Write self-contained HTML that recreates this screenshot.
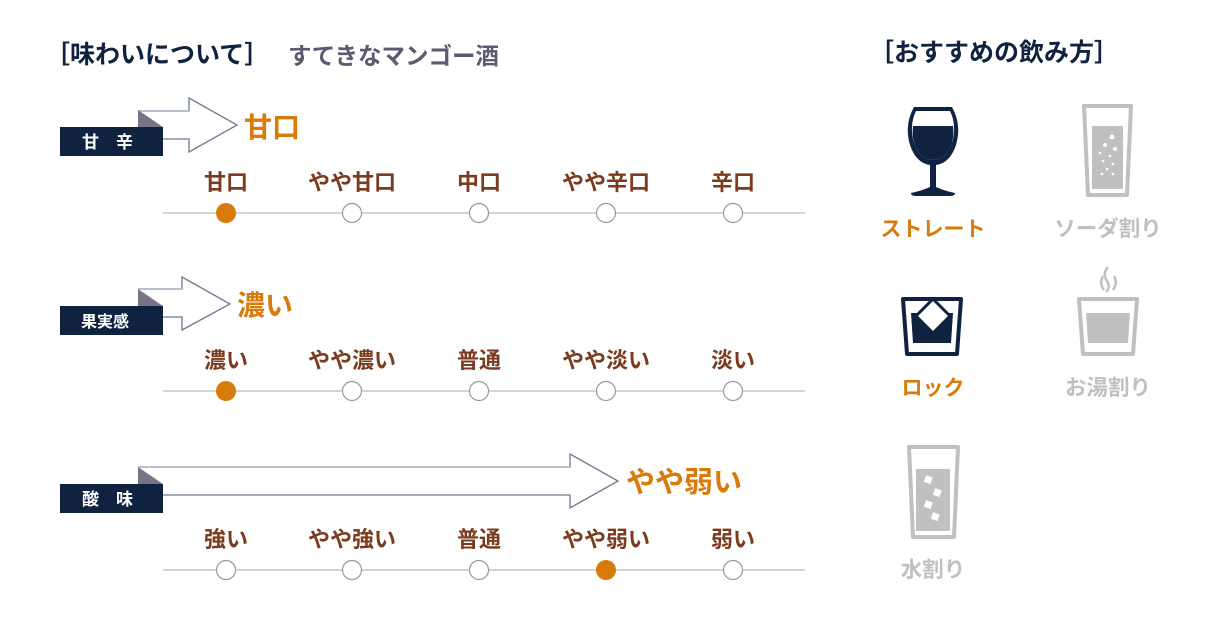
<!DOCTYPE html>
<html><head><meta charset="utf-8"><style>
body{margin:0;background:#fff;}
svg text{font-family:"Liberation Sans","Noto Sans CJK JP",sans-serif;font-weight:700;}
</style></head><body>
<svg width="1221" height="620" viewBox="0 0 1221 620" xmlns="http://www.w3.org/2000/svg">
<text x="45" y="63" font-size="25" fill="#0f2340">［味わいについて］</text>
<text x="288" y="64" font-size="23.5" fill="#5f5870">すてきなマンゴー酒</text>
<text x="869" y="61" font-size="25" fill="#0f2340">［おすすめの飲み方］</text>

<!-- section 1 -->
<path d="M138 111 H189 V98 L237 125 L189 152 V139 H163" fill="#fff" stroke="#6b7a90" stroke-width="1.3"/>
<line x1="138" y1="111" x2="189" y2="111" stroke="#b8bfca" stroke-width="2"/>
<polygon points="138,110 163,127 138,127" fill="#7a7387"/>
<rect x="60" y="127" width="103" height="29" fill="#0f2340"/>
<text x="82" y="148" font-size="17" fill="#fff" font-weight="400">甘　辛</text>
<text x="244" y="137" font-size="28" fill="#d97b0a">甘口</text>

<!-- section 2 -->
<path d="M138 289 H182 V277 L230 304 L182 330 V317 H163" fill="#fff" stroke="#6b7a90" stroke-width="1.3"/>
<line x1="138" y1="289" x2="182" y2="289" stroke="#b8bfca" stroke-width="2"/>
<polygon points="138,289 163,306 138,306" fill="#7a7387"/>
<rect x="60" y="306" width="103" height="29" fill="#0f2340"/>
<text x="81" y="327" font-size="16" fill="#fff" font-weight="400">果実感</text>
<text x="237" y="315" font-size="28" fill="#d97b0a">濃い</text>

<!-- section 3 -->
<path d="M138 467 H570 V454 L618 481 L570 508 V495 H163" fill="#fff" stroke="#6b7a90" stroke-width="1.3"/>
<line x1="138" y1="467" x2="570" y2="467" stroke="#b8bfca" stroke-width="2"/>
<polygon points="138,467 163,484 138,484" fill="#7a7387"/>
<rect x="60" y="484" width="103" height="29" fill="#0f2340"/>
<text x="82" y="505" font-size="17" fill="#fff" font-weight="400">酸　味</text>
<text x="626" y="492" font-size="29" fill="#d97b0a">やや弱い</text>

<g font-size="22" fill="#7a3b1e" text-anchor="middle">
<text x="226" y="190">甘口</text><text x="352" y="190">やや甘口</text><text x="479" y="190">中口</text><text x="606" y="190">やや辛口</text><text x="733" y="190">辛口</text>
<text x="226" y="368">濃い</text><text x="352" y="368">やや濃い</text><text x="479" y="368">普通</text><text x="606" y="368">やや淡い</text><text x="733" y="368">淡い</text>
<text x="226" y="547">強い</text><text x="352" y="547">やや強い</text><text x="479" y="547">普通</text><text x="606" y="547">やや弱い</text><text x="733" y="547">弱い</text>
</g>
<g stroke="#bbb" stroke-width="1.2">
<line x1="163" y1="213" x2="805" y2="213"/><line x1="163" y1="391" x2="805" y2="391"/><line x1="163" y1="570" x2="805" y2="570"/>
</g>
<g fill="#fff" stroke="#999" stroke-width="1.2">
<circle cx="352" cy="213" r="9.5"/><circle cx="479" cy="213" r="9.5"/><circle cx="606" cy="213" r="9.5"/><circle cx="733" cy="213" r="9.5"/>
<circle cx="352" cy="391" r="9.5"/><circle cx="479" cy="391" r="9.5"/><circle cx="606" cy="391" r="9.5"/><circle cx="733" cy="391" r="9.5"/>
<circle cx="226" cy="570" r="9.5"/><circle cx="352" cy="570" r="9.5"/><circle cx="479" cy="570" r="9.5"/><circle cx="733" cy="570" r="9.5"/>
</g>
<g fill="#d97b0a"><circle cx="226" cy="213" r="10"/><circle cx="226" cy="391" r="10"/><circle cx="606" cy="570" r="10"/></g>

<!-- wine glass -->
<path d="M914 107 H952 Q962 125 956 145 Q950 163 936 165 V187 Q945 191 955 193 Q955 196 950 196 H916 Q911 196 911 193 Q921 191 930 187 V165 Q916 163 910 145 Q904 125 914 107 Z" fill="#0f2340"/>
<path d="M916 111 H950 Q957 125 952 143 Q946 160 933 160 Q920 160 914 143 Q909 125 916 111 Z" fill="#fff"/>
<path d="M913 126 H953 Q954 135 952 143 Q946 160 933 160 Q920 160 914 143 Q912 135 913 126 Z" fill="#0f2340"/>
<!-- soda glass -->
<path d="M1084 106 H1131 L1127 195 H1088 Z" fill="none" stroke="#c0c0c0" stroke-width="4" stroke-linejoin="round"/>
<rect x="1092" y="126" width="31" height="63" fill="#c0c0c0"/>
<g fill="#fff"><circle cx="1112" cy="137" r="2.5"/><circle cx="1105" cy="145" r="2"/><circle cx="1115" cy="149" r="2"/><circle cx="1100" cy="153" r="1.3"/><circle cx="1110" cy="156" r="1.3"/><circle cx="1103" cy="161" r="1.3"/><circle cx="1113" cy="164" r="1.3"/><circle cx="1107" cy="169" r="1.3"/><circle cx="1102" cy="174" r="1.3"/><circle cx="1113" cy="174" r="1.3"/></g>
<text x="933" y="236" font-size="21" fill="#d97b0a" text-anchor="middle">ストレート</text>
<text x="1108" y="236" font-size="21.5" fill="#c0c0c0" text-anchor="middle">ソーダ割り</text>

<!-- rock -->
<path d="M903 299 H961 L957 354 H907 Z" fill="none" stroke="#0f2340" stroke-width="4" stroke-linejoin="round"/>
<path d="M911 313 H953 L951 343 H913 Z" fill="#0f2340"/>
<polygon points="933,299 950,316 933,333 916,316" fill="#fff" stroke="#0f2340" stroke-width="3"/>
<!-- hot -->
<path d="M1079 299 H1137 L1133 354 H1083 Z" fill="none" stroke="#c0c0c0" stroke-width="4" stroke-linejoin="round"/>
<path d="M1086 313 H1130 L1128 343 H1088 Z" fill="#c0c0c0"/>
<path d="M1108 267 Q1102 274 1107 281 Q1111 287 1106 292 M1103 276 Q1099 283 1104 290 M1114 276 Q1118 283 1113 290" fill="none" stroke="#c0c0c0" stroke-width="2.5"/>
<text x="933" y="395" font-size="21" fill="#d97b0a" text-anchor="middle">ロック</text>
<text x="1108" y="395" font-size="21.5" fill="#c0c0c0" text-anchor="middle">お湯割り</text>

<!-- water -->
<path d="M909 447 H958 L954 537 H913 Z" fill="none" stroke="#c0c0c0" stroke-width="4" stroke-linejoin="round"/>
<rect x="916" y="469" width="34" height="62" fill="#c0c0c0"/>
<g fill="#fff"><rect x="925" y="476" width="7" height="7" transform="rotate(20 928 479)"/><rect x="934" y="489" width="7" height="7" transform="rotate(20 937 492)"/><rect x="925" y="501" width="7" height="7" transform="rotate(20 928 504)"/><rect x="932" y="513" width="7" height="7" transform="rotate(20 935 516)"/></g>
<text x="933" y="577" font-size="21.5" fill="#c0c0c0" text-anchor="middle">水割り</text>
</svg>
</body></html>
